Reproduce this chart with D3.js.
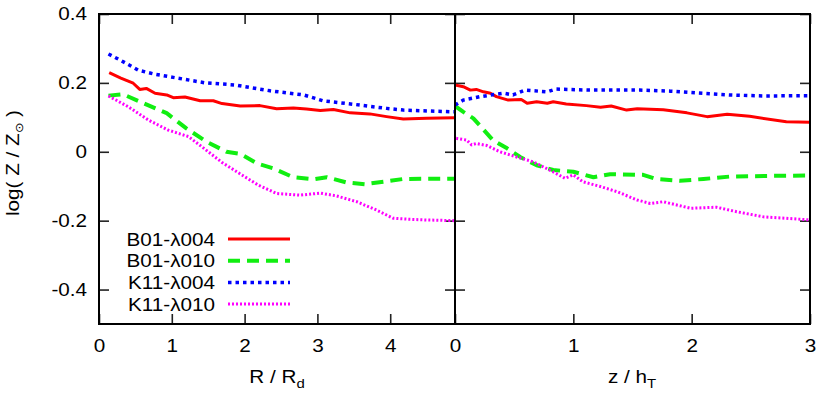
<html>
<head>
<script src="https://d3js.org/d3.v7.min.js"></script>
<style>
  body{margin:0;background:#fff;}
  text{font-family:"Liberation Sans",Arial,sans-serif;fill:#000;}
  .tick line{stroke:#222;stroke-width:1.6;}
</style>
</head>
<body>
<script>
// tick labels
const yTicks = [-0.4, -0.2, 0, 0.2, 0.4];
const yTickLabels = ["-0.4", "-0.2", "0", "0.2", "0.4"];
const xTicksL = [0, 1, 2, 3, 4];
const xTicksR = [0, 1, 2, 3];

const seriesNames = ["B01-\u03bb004", "B01-\u03bb010", "K11-\u03bb004", "K11-\u03bb010"];

// left panel: R / Rd
const redLx = [0.14,0.30,0.47,0.56,0.65,0.77,0.93,1.02,1.18,1.39,1.57,1.69,1.94,2.21,2.44,2.67,2.85,3.04,3.22,3.45,3.72,3.95,4.18,4.50,4.88];
const redLy = [0.230,0.214,0.199,0.181,0.184,0.170,0.165,0.157,0.159,0.148,0.148,0.140,0.133,0.134,0.125,0.127,0.124,0.120,0.123,0.113,0.110,0.102,0.095,0.097,0.099];
const greenLx = [0.13,0.33,0.61,0.93,1.20,1.48,1.75,1.94,2.17,2.39,2.67,2.94,3.13,3.40,3.65,3.91,4.18,4.88];
const greenLy = [0.163,0.167,0.141,0.112,0.068,0.029,0.000,-0.006,-0.034,-0.048,-0.074,-0.080,-0.074,-0.089,-0.094,-0.087,-0.079,-0.078];
const blueLx = [0.13,0.31,0.54,0.77,1.02,1.46,1.87,2.35,2.81,3.08,3.49,3.95,4.18,4.88];
const blueLy = [0.284,0.264,0.237,0.225,0.216,0.200,0.194,0.177,0.165,0.148,0.138,0.126,0.121,0.116];
const magLx = [0.13,0.40,0.68,0.95,1.23,1.41,1.69,1.96,2.19,2.44,2.76,3.04,3.26,3.54,3.81,4.04,4.27,4.50,4.88];
const magLy = [0.162,0.131,0.092,0.063,0.044,0.015,-0.031,-0.067,-0.097,-0.121,-0.126,-0.120,-0.128,-0.145,-0.169,-0.193,-0.196,-0.198,-0.200];

// right panel: z / hT
const redRx = [0.0,0.07,0.13,0.18,0.24,0.30,0.35,0.45,0.56,0.61,0.69,0.78,0.83,0.94,1.11,1.23,1.32,1.45,1.54,1.76,1.96,2.13,2.30,2.49,2.80,3.0];
const redRy = [0.194,0.189,0.179,0.181,0.174,0.170,0.160,0.150,0.152,0.141,0.145,0.141,0.145,0.139,0.134,0.129,0.133,0.121,0.125,0.122,0.113,0.102,0.109,0.103,0.087,0.086];
const greenRx = [0.0,0.07,0.155,0.226,0.32,0.44,0.55,0.69,0.83,1.0,1.17,1.31,1.59,1.70,1.90,2.10,2.32,2.66,3.0];
const greenRy = [0.133,0.116,0.097,0.070,0.034,0.010,-0.015,-0.039,-0.053,-0.058,-0.074,-0.065,-0.067,-0.079,-0.084,-0.079,-0.072,-0.070,-0.069];
const blueRx = [0.0,0.07,0.21,0.41,0.49,0.59,0.78,0.85,1.14,1.56,1.82,2.04,2.32,2.61,3.0];
const blueRy = [0.136,0.150,0.160,0.170,0.165,0.179,0.174,0.182,0.179,0.179,0.176,0.171,0.165,0.162,0.163];
const magRx = [0.01,0.10,0.14,0.18,0.27,0.38,0.52,0.66,0.80,0.93,1.0,1.08,1.23,1.37,1.54,1.65,1.76,1.99,2.21,2.38,2.61,2.80,3.0];
const magRy = [0.039,0.034,0.020,0.024,0.018,0.000,-0.015,-0.029,-0.053,-0.077,-0.067,-0.087,-0.101,-0.116,-0.140,-0.150,-0.145,-0.164,-0.161,-0.174,-0.189,-0.193,-0.198];

// line styles (same order as seriesNames)
const styles = [
  {color:"#ff0000", width:3, dash:null},
  {color:"#11ee11", width:4, dash:"12,7"},
  {color:"#0000ff", width:3.5, dash:"3.5,4"},
  {color:"#ff00ff", width:3, dash:"2,2"}
];

const W = 830, H = 394;
const yTop = 14, yBot = 324;
const xL0 = 99, xMid = 455, xR1 = 810;
const fs = 18;        // font size
const sx = 1.15;      // the original font is wider than Liberation Sans

const y = d3.scaleLinear().domain([-0.5, 0.4]).range([yBot, yTop]);
const xL = d3.scaleLinear().domain([0, 4.89]).range([xL0, xMid]);
const xR = d3.scaleLinear().domain([0, 3]).range([xMid, xR1]);

const svg = d3.select("body").append("svg")
  .attr("width", W).attr("height", H);

svg.append("defs").selectAll("clipPath")
  .data([["clipL", xL0, xMid], ["clipR", xMid, xR1]])
  .enter().append("clipPath").attr("id", d => d[0])
  .append("rect")
  .attr("x", d => d[1]).attr("y", yTop)
  .attr("width", d => d[2] - d[1]).attr("height", yBot - yTop);

function axes(x, ticks, leftLabels) {
  const g = svg.append("g");
  // bottom
  g.append("g").attr("transform", "translate(0," + yBot + ")")
    .call(d3.axisBottom(x).tickValues(ticks).tickFormat(d3.format("d"))
      .tickSizeInner(-10).tickSizeOuter(0).tickPadding(15))
    .call(a => a.select(".domain").remove())
    .call(a => a.selectAll("text").attr("transform", "scale(" + sx + ",1)"));
  // top
  g.append("g").attr("transform", "translate(0," + yTop + ")")
    .call(d3.axisTop(x).tickValues(ticks).tickFormat("")
      .tickSizeInner(-10).tickSizeOuter(0))
    .call(a => a.select(".domain").remove());
  // left
  g.append("g").attr("transform", "translate(" + x.range()[0] + ",0)")
    .call(d3.axisLeft(y).tickValues(yTicks)
      .tickFormat((d, i) => leftLabels ? yTickLabels[i] : "")
      .tickSizeInner(-10).tickSizeOuter(0).tickPadding(12))
    .call(a => a.select(".domain").remove())
    .call(a => a.selectAll("text").attr("x", -12 / sx).attr("transform", "scale(" + sx + ",1)"));
  // right
  g.append("g").attr("transform", "translate(" + x.range()[1] + ",0)")
    .call(d3.axisRight(y).tickValues(yTicks).tickFormat("")
      .tickSizeInner(-10).tickSizeOuter(0))
    .call(a => a.select(".domain").remove());
  g.selectAll("text").attr("font-size", fs).attr("font-family", "Liberation Sans, Arial, sans-serif");
}
axes(xL, xTicksL, true);
axes(xR, xTicksR, false);

function drawSeries(x, xs, ys, st, clip) {
  const pts = xs.map((v, i) => [v, ys[i]]);
  const line = d3.line().x(d => x(d[0])).y(d => y(d[1]));
  svg.append("path")
    .attr("clip-path", "url(#" + clip + ")")
    .attr("d", line(pts))
    .attr("fill", "none")
    .attr("stroke", st.color)
    .attr("stroke-width", st.width)
    .attr("stroke-dasharray", st.dash)
    .attr("stroke-linejoin", "round");
}

const left = [[redLx, redLy], [greenLx, greenLy], [blueLx, blueLy], [magLx, magLy]];
const right = [[redRx, redRy], [greenRx, greenRy], [blueRx, blueRy], [magRx, magRy]];
left.forEach((s, i) => drawSeries(xL, s[0], s[1], styles[i], "clipL"));
right.forEach((s, i) => drawSeries(xR, s[0], s[1], styles[i], "clipR"));

// frames
svg.append("rect").attr("x", xL0).attr("y", yTop).attr("width", xMid - xL0).attr("height", yBot - yTop)
  .attr("fill", "none").attr("stroke", "#000").attr("stroke-width", 2);
svg.append("rect").attr("x", xMid).attr("y", yTop).attr("width", xR1 - xMid).attr("height", yBot - yTop)
  .attr("fill", "none").attr("stroke", "#000").attr("stroke-width", 2);

// legend
const leg = svg.append("g");
seriesNames.forEach((name, i) => {
  const cy = 239 + i * 21.7;
  leg.append("text").attr("transform", "translate(215," + (cy + 6.5) + ") scale(" + sx + ",1)")
    .attr("text-anchor", "end").attr("font-size", fs).text(name);
  leg.append("line").attr("x1", 228).attr("x2", 290).attr("y1", cy).attr("y2", cy)
    .attr("stroke", styles[i].color).attr("stroke-width", styles[i].width)
    .attr("stroke-dasharray", styles[i].dash);
});

// axis titles
const xt1 = svg.append("text").attr("transform", "translate(277,383) scale(" + sx + ",1)")
  .attr("text-anchor", "middle").attr("font-size", fs);
xt1.append("tspan").text("R / R");
xt1.append("tspan").attr("font-size", 13).attr("dy", 5).text("d");

const xt2 = svg.append("text").attr("transform", "translate(632,383) scale(" + sx + ",1)")
  .attr("text-anchor", "middle").attr("font-size", fs);
xt2.append("tspan").text("z / h");
xt2.append("tspan").attr("font-size", 13).attr("dy", 5).text("T");

const yt = svg.append("text").attr("transform", "translate(19,163) rotate(-90) scale(" + sx + ",1)")
  .attr("text-anchor", "middle").attr("font-size", fs);
yt.append("tspan").text("log( Z / Z");
yt.append("tspan").attr("font-size", 11).attr("dy", 4).text("\u2299");
yt.append("tspan").attr("dy", -4).text(" )");
</script>
</body>
</html>
